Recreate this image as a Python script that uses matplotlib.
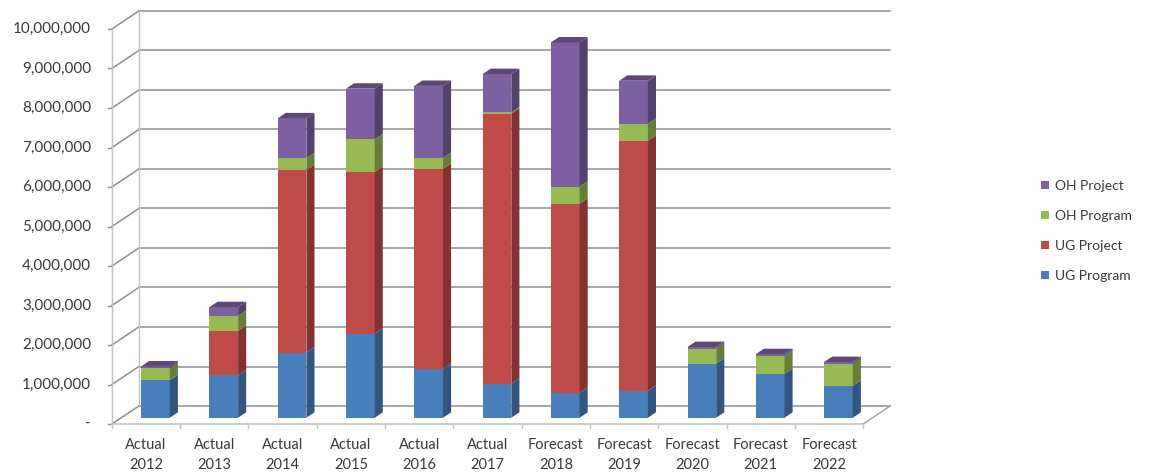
import numpy as np
import matplotlib.pyplot as plt
from matplotlib.patches import Polygon, Patch
from matplotlib.colors import to_rgb

plt.rcParams['font.family'] = ['Lato', 'DejaVu Sans']

categories = ['Actual\n2012', 'Actual\n2013', 'Actual\n2014', 'Actual\n2015',
              'Actual\n2016', 'Actual\n2017', 'Forecast\n2018', 'Forecast\n2019',
              'Forecast\n2020', 'Forecast\n2021', 'Forecast\n2022']

ug_program = [950000, 1070000, 1650000, 2130000, 1240000, 860000,
              630000, 680000, 1370000, 1110000, 810000]
ug_project = [0, 1130000, 4620000, 4090000, 5060000, 6840000,
              4790000, 6330000, 0, 0, 0]
oh_program = [300000, 380000, 300000, 830000, 280000, 30000,
              430000, 430000, 380000, 460000, 560000]
oh_project = [50000, 220000, 1010000, 1280000, 1820000, 970000,
              3650000, 1090000, 40000, 40000, 40000]

series_names = ['UG Program', 'UG Project', 'OH Program', 'OH Project']
series_vals = [ug_program, ug_project, oh_program, oh_project]
series_cols = ['#4A7EBB', '#BE4B48', '#98B954', '#7D60A0']

yticks = np.arange(0, 10000001, 1000000)
ytick_labels = ['-'] + ['{:,}'.format(v) for v in yticks[1:]]

# wall depth offset (x in category units, y in value units)
DX = 0.395
DY = 456000
BAR_W = 0.42
F0, F1 = 0.35, 0.65   # bar front / back depth fraction

def shade(c, k):
    r, g, b = to_rgb(c)
    return (r * k, g * k, b * k)

fig = plt.figure(figsize=(11.51, 4.76), dpi=100)
ax = fig.add_axes([0, 0, 1, 1])
ax.set_xlim(-2.138, 14.714)
ax.set_ylim(-1316000, 10734000)
ax.axis('off')

n = len(categories)
xl, xr = -0.5, n - 0.5
gcol = '#8e8e8e'

# back wall and left wall gridlines
for v in yticks:
    ax.plot([xl + DX, xr + DX], [v + DY, v + DY], color=gcol, lw=1.1, zorder=1)
    ax.plot([xl, xl + DX], [v, v + DY], color=gcol, lw=1.1, zorder=1)
    ax.plot([xl - 0.06, xl], [v, v], color=gcol, lw=1.0, zorder=1)
ax.plot([xl, xl], [0, yticks[-1]], color='#c4c4c4', lw=1.0, zorder=1)
ax.plot([xl + DX, xl + DX], [DY, yticks[-1] + DY], color='#c4c4c4', lw=1.0, zorder=1)

# floor edges
ax.plot([xl, xr], [0, 0], color='#c4c4c4', lw=1.2, zorder=1)
ax.plot([xr, xr + DX], [0, DY], color='#a0a0a0', lw=1.0, zorder=1)
for b in np.arange(xl, xr + 0.01, 1.0):
    ax.plot([b, b], [0, -90000], color='#c4c4c4', lw=1.0, zorder=1)

for v, lab in zip(yticks, ytick_labels):
    ax.text(-0.805, v, lab, ha='right', va='center', fontsize=11, color='#3a3a3a')

for i, lab in enumerate(categories):
    ax.text(i, -785000, lab, ha='center', va='center', fontsize=10.5,
            color='#3a3a3a', linespacing=1.5)

# stacked columns: front faces through ax.bar, side and top faces as polygons
x = np.arange(n)
fx = x + F0 * DX
dx = (F1 - F0) * DX
dy = (F1 - F0) * DY
bottom = np.zeros(n)
top_col = [None] * n
for vals, col in zip(series_vals, series_cols):
    vals = np.array(vals, dtype=float)
    ax.bar(fx, vals, width=BAR_W, bottom=bottom + F0 * DY, color=col,
           linewidth=0, zorder=3)
    for i in range(n):
        if vals[i] <= 0:
            continue
        xe = fx[i] + BAR_W / 2
        y0 = bottom[i] + F0 * DY
        y1 = y0 + vals[i]
        ax.add_patch(Polygon([(xe, y0), (xe + dx, y0 + dy), (xe + dx, y1 + dy), (xe, y1)],
                             closed=True, facecolor=shade(col, 0.68), lw=0, zorder=3))
        top_col[i] = col
    bottom = bottom + vals

for i in range(n):
    xa = fx[i] - BAR_W / 2
    xb = fx[i] + BAR_W / 2
    yt = bottom[i] + F0 * DY
    ax.add_patch(Polygon([(xa, yt), (xb, yt), (xb + dx, yt + dy), (xa + dx, yt + dy)],
                         closed=True, facecolor=shade(top_col[i], 0.75), lw=0, zorder=4))

handles = [Patch(facecolor=c, edgecolor='none', label=l)
           for l, c in zip(series_names, series_cols)][::-1]
fig.legend(handles=handles, loc='center left', bbox_to_anchor=(1041 / 1151, 1 - 231 / 476),
           frameon=False, fontsize=10, labelspacing=1.3, handlelength=0.55,
           handleheight=0.55, handletextpad=0.45, borderpad=0, borderaxespad=0,
           labelcolor='#3a3a3a')

fig.savefig('out.png', dpi=100)
